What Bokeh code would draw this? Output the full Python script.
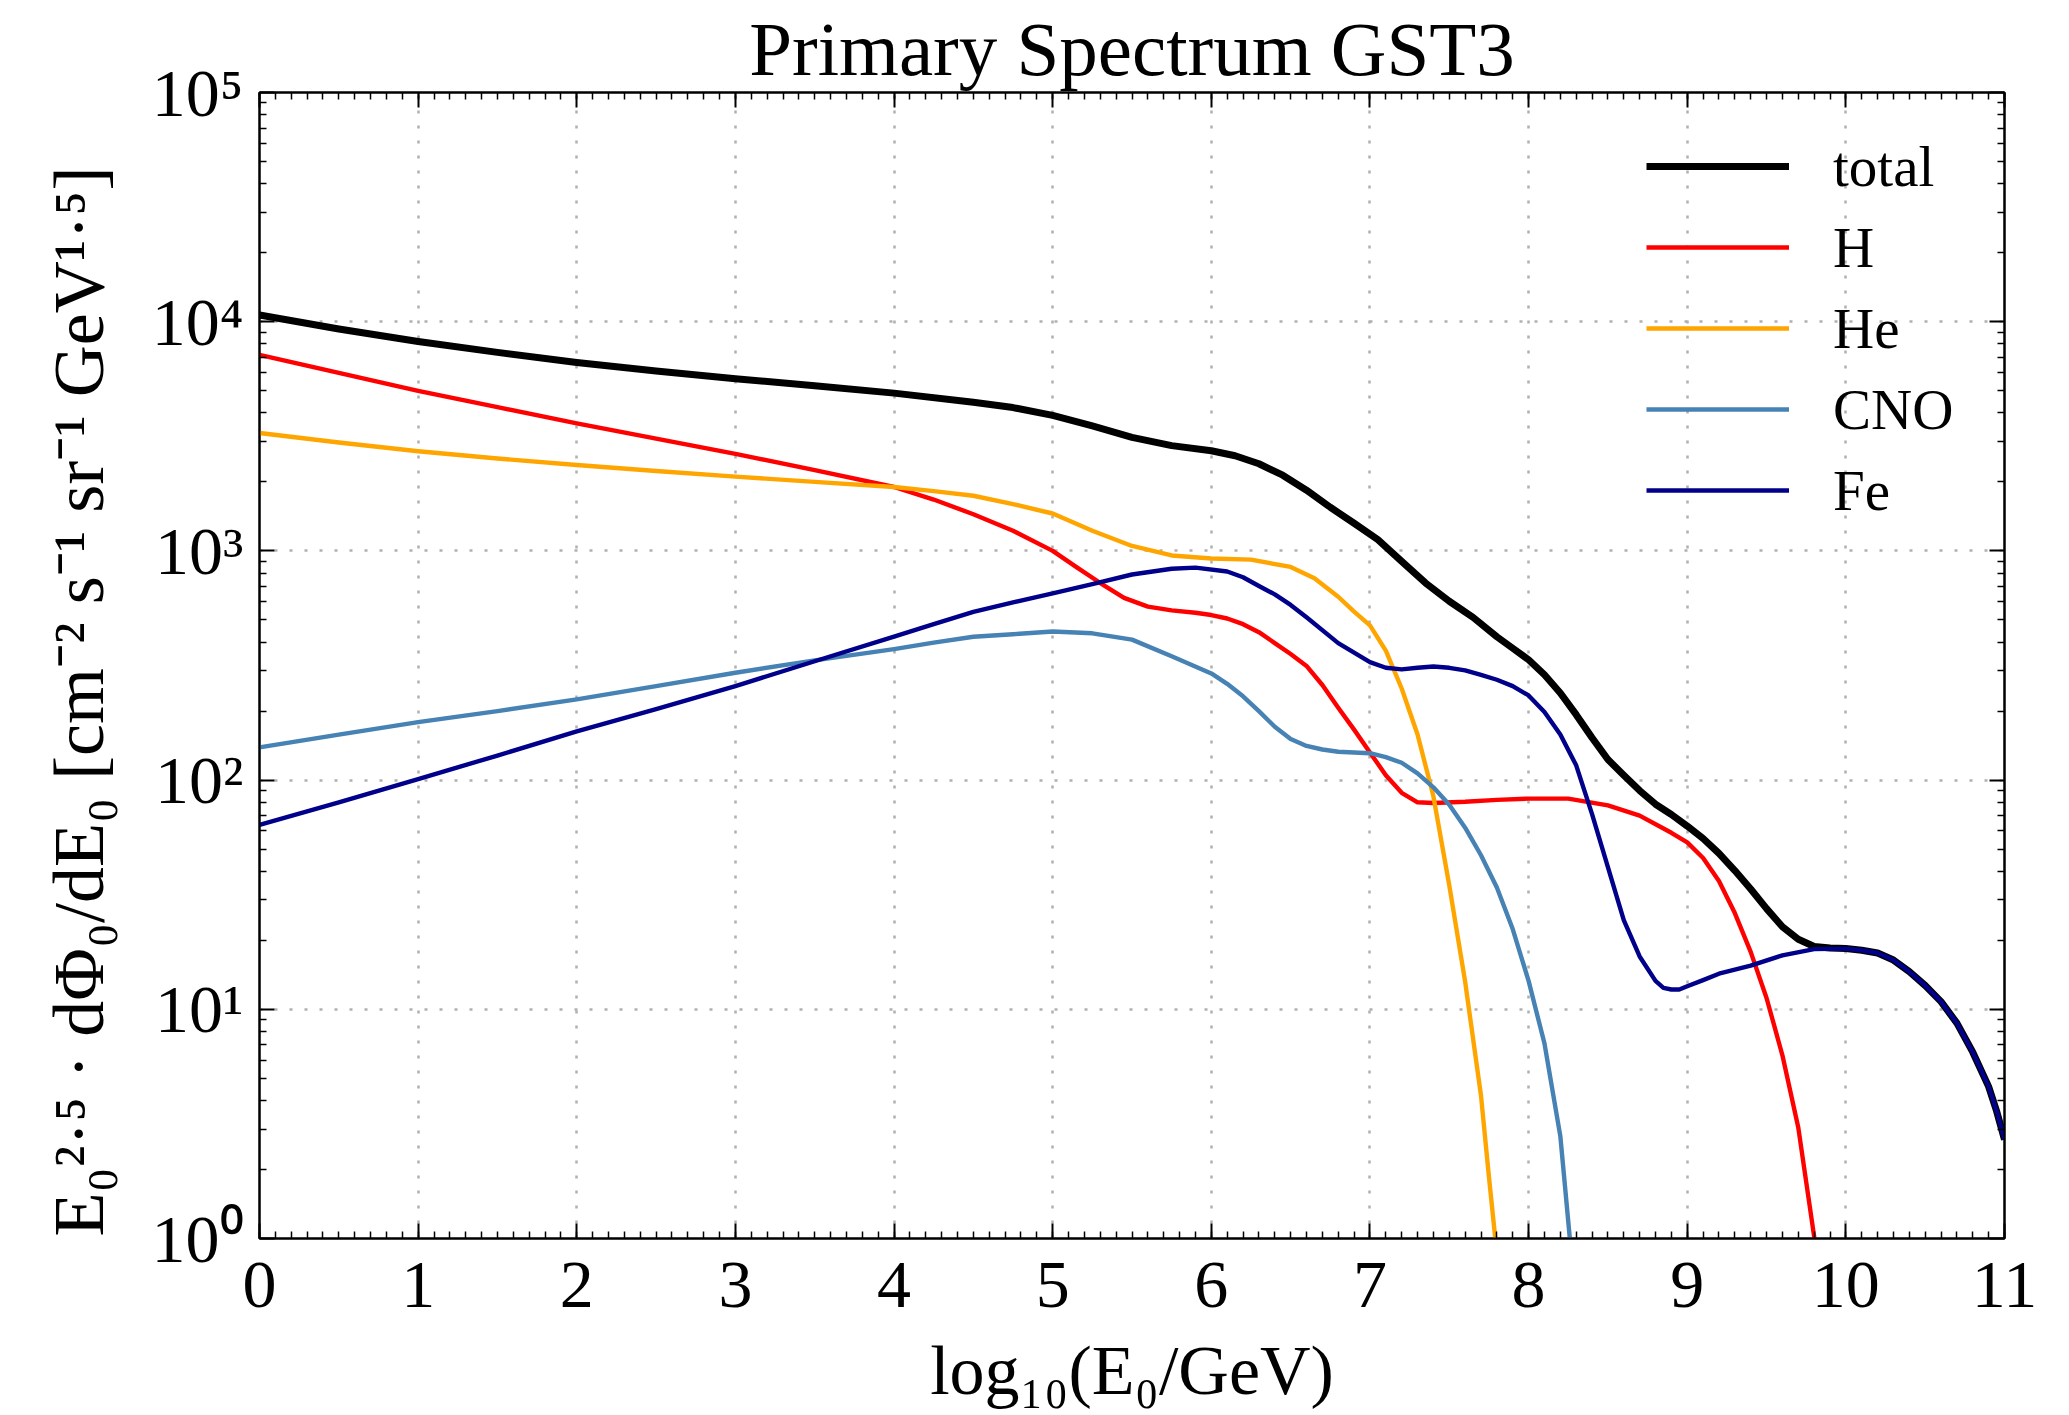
from bokeh.plotting import figure
from bokeh.models import (FixedTicker, LinearAxis, LogAxis, Legend, LegendItem, Range1d,
                          CustomJSTickFormatter)
from bokeh.embed import file_html
from bokeh.resources import INLINE

# ---------------- text ----------------
title_text = "Primary Spectrum GST3"
x_label = "log₁₀(E₀/GeV)"
y_label = "E₀²·⁵ · dΦ₀/dE₀   [cm⁻² s⁻¹ sr⁻¹   GeV¹·⁵]"

x_tick_values = [0, 1, 2, 3, 4, 5, 6, 7, 8, 9, 10, 11]
x_tick_labels = ["0", "1", "2", "3", "4", "5", "6", "7", "8", "9", "10", "11"]
y_tick_values = [1, 10, 100, 1000, 10000, 100000]
y_tick_labels = ["10⁰", "10¹", "10²", "10³", "10⁴", "10⁵"]

series_names = ["total", "H", "He", "CNO", "Fe"]
series_colors = ["#000000", "#ff0000", "#ffa500", "#4682b4", "#00008b"]

# ---------------- data ----------------
total_x = [0, 0.5, 1, 1.5, 2, 2.5, 3, 3.5, 4, 4.5, 4.75, 5, 5.25, 5.5, 5.75, 6, 6.15,
           6.3, 6.45, 6.6, 6.75, 6.9, 7.05, 7.2, 7.35, 7.5, 7.65, 7.8, 7.9, 8, 8.1,
           8.2, 8.3, 8.4, 8.5, 8.6, 8.7, 8.8, 8.9, 9, 9.1, 9.2, 9.3, 9.4, 9.5, 9.6,
           9.7, 9.8, 9.9, 10, 10.1, 10.2, 10.3, 10.4, 10.5, 10.6, 10.7, 10.8, 10.9,
           10.95, 11]
total_y = [10700, 9290, 8200, 7350, 6640, 6100, 5640, 5250, 4880, 4450, 4220, 3900,
           3510, 3130, 2880, 2735, 2600, 2400, 2140, 1840, 1550, 1320, 1120, 900, 725,
           603, 513, 422, 376, 335, 288, 240, 193, 153, 123, 105, 90, 78.5, 70.8, 63,
           55.6, 47.9, 40.3, 33.5, 27.5, 22.9, 20.2, 18.8, 18.5, 18.4, 18.1, 17.6,
           16.4, 14.6, 12.7, 10.8, 8.7, 6.5, 4.6, 3.6, 2.7]

h_x = [0, 0.5, 1, 1.5, 2, 2.5, 3, 3.5, 4, 4.25, 4.5, 4.75, 5, 5.15, 5.3, 5.45, 5.6,
       5.75, 5.9, 6, 6.1, 6.2, 6.3, 6.4, 6.5, 6.6, 6.7, 6.8, 6.9, 7, 7.1, 7.2, 7.3,
       7.4, 7.6, 7.8, 8, 8.25, 8.5, 8.7, 8.9, 9, 9.1, 9.2, 9.3, 9.4, 9.5, 9.6, 9.7,
       9.8, 9.85]
h_y = [7160, 5980, 4990, 4240, 3600, 3090, 2650, 2250, 1900, 1675, 1445, 1225, 1000,
       850, 724, 624, 571, 550, 537, 525, 507, 479, 442, 396, 355, 315, 260, 207, 166,
       132, 105, 88, 80, 79.4, 80.4, 82, 83, 83, 77.6, 70, 58.9, 53.5, 45.7, 36.3,
       26.3, 17.8, 11.2, 6.3, 3.05, 1.02, 0.56]

he_x = [0, 0.5, 1, 1.5, 2, 2.5, 3, 3.5, 4, 4.25, 4.5, 4.75, 5, 5.25, 5.5, 5.75, 6,
        6.25, 6.5, 6.65, 6.8, 6.9, 7, 7.1, 7.2, 7.3, 7.4, 7.5, 7.6, 7.7, 7.75, 7.79,
        7.82]
he_y = [3270, 2970, 2720, 2530, 2370, 2230, 2110, 2000, 1900, 1824, 1740, 1600, 1456,
        1225, 1051, 955, 926, 916, 851, 759, 631, 543, 473, 367, 251, 158, 85, 34.7,
        13.2, 4.2, 1.86, 1.0, 0.56]

cno_x = [0, 0.5, 1, 1.5, 2, 2.5, 3, 3.5, 4, 4.25, 4.5, 4.75, 5, 5.25, 5.5, 5.75, 6,
         6.1, 6.2, 6.3, 6.4, 6.5, 6.6, 6.7, 6.8, 7, 7.1, 7.2, 7.3, 7.4, 7.5, 7.6, 7.7,
         7.8, 7.9, 8, 8.1, 8.2, 8.26, 8.3]
cno_y = [139, 158, 179, 200, 225, 257, 294, 333, 373, 398, 422, 433, 445, 437, 410,
         347, 292, 263, 232, 200, 171, 151, 141, 136, 133, 131, 126, 119, 107, 93, 78,
         62, 47, 34, 22.4, 13.3, 7.1, 2.8, 1.0, 0.5]

fe_x = [0, 0.5, 1, 1.5, 2, 2.5, 3, 3.5, 4, 4.25, 4.5, 4.75, 5, 5.25, 5.5, 5.75, 5.9,
        6.1, 6.2, 6.3, 6.4, 6.5, 6.6, 6.8, 7, 7.1, 7.2, 7.3, 7.4, 7.5, 7.6, 7.7, 7.8,
        7.9, 8, 8.1, 8.2, 8.3, 8.4, 8.5, 8.6, 8.7, 8.8, 8.85, 8.9, 8.95, 9, 9.1, 9.2,
        9.4, 9.6, 9.8, 10, 10.1, 10.2, 10.3, 10.4, 10.5, 10.6, 10.7, 10.8, 10.9,
        10.95, 11]
fe_y = [63.7, 80, 101, 128, 163, 204, 257, 330, 423, 479, 542, 596, 652, 716, 789,
        836, 845, 813, 767, 703, 646, 581, 513, 396, 327, 309, 304, 309, 313, 309, 301,
        288, 274, 257, 234, 198, 158, 116, 71, 41.7, 24.5, 17, 13.3, 12.4, 12.2, 12.2,
        12.6, 13.4, 14.3, 15.5, 17.2, 18.3, 18.4, 18.1, 17.6, 16.4, 14.6, 12.7, 10.8,
        8.7, 6.5, 4.6, 3.6, 2.7]

series_x = [total_x, h_x, he_x, cno_x, fe_x]
series_y = [total_y, h_y, he_y, cno_y, fe_y]
series_widths = [7.0, 4.4, 4.4, 4.4, 4.4]

FONT = "Liberation Serif"

p = figure(width=2069, height=1415, output_backend="svg", toolbar_location=None,
           y_axis_type="log", x_range=Range1d(0, 11), y_range=Range1d(1, 1e5),
           min_border_left=259, min_border_right=65, min_border_top=92,
           min_border_bottom=177)
p.background_fill_color = "white"
p.border_fill_color = "white"
p.outline_line_color = "black"
p.outline_line_width = 2

# title
p.title.text = title_text
p.title.text_font = FONT
p.title.text_font_size = "77px"
p.title.text_font_style = "normal"
p.title.text_color = "black"
p.title.align = "center"
p.title.standoff = 2

# tickers
x_minor = [i / 10 for i in range(0, 111)]
y_minor = [m * 10 ** e for e in range(0, 5) for m in range(2, 10)]
xt = FixedTicker(ticks=x_tick_values, minor_ticks=x_minor)
yt = FixedTicker(ticks=y_tick_values, minor_ticks=y_minor)


def style_axis(ax, show_labels):
    ax.axis_line_color = "black"
    ax.axis_line_width = 2
    ax.major_tick_in = 15
    ax.major_tick_out = 0
    ax.minor_tick_in = 7
    ax.minor_tick_out = 0
    ax.major_tick_line_color = "black"
    ax.minor_tick_line_color = "black"
    ax.major_tick_line_width = 2
    ax.minor_tick_line_width = 1.5
    ax.major_label_text_font = FONT
    ax.major_label_text_color = "black"
    if show_labels:
        ax.major_label_text_font_size = "68px"
    else:
        ax.formatter = CustomJSTickFormatter(code="return ''")
        ax.major_label_text_font_size = "10px"
        ax.major_label_standoff = 0


xa = p.xaxis[0]
xa.ticker = xt
style_axis(xa, True)
xa.major_label_overrides = {v: s for v, s in zip(x_tick_values, x_tick_labels)}
xa.major_label_standoff = 24
xa.axis_label = x_label
xa.axis_label_text_font = FONT
xa.axis_label_text_font_size = "70px"
xa.axis_label_text_font_style = "normal"
xa.axis_label_text_color = "black"
xa.axis_label_standoff = 22

ya = p.yaxis[0]
ya.ticker = yt
style_axis(ya, True)
ya.major_label_overrides = {v: s for v, s in zip(y_tick_values, y_tick_labels)}
ya.major_label_standoff = 16
ya.axis_label = y_label
ya.axis_label_text_font = FONT
ya.axis_label_text_font_size = "72px"
ya.axis_label_text_font_style = "normal"
ya.axis_label_text_color = "black"
ya.axis_label_standoff = 30

top = LinearAxis(ticker=xt)
style_axis(top, False)
p.add_layout(top, "above")
right = LogAxis(ticker=yt)
style_axis(right, False)
p.add_layout(right, "right")

for g in (p.xgrid[0], p.ygrid[0]):
    g.grid_line_color = "#b0b0b0"
    g.grid_line_dash = "3 12"
    g.grid_line_width = 2.5
p.xgrid[0].ticker = FixedTicker(ticks=x_tick_values)
p.ygrid[0].ticker = FixedTicker(ticks=y_tick_values)

items = []
for name, xs, ys, col, w in zip(series_names, series_x, series_y, series_colors, series_widths):
    r = p.line(xs, ys, line_color=col, line_width=w, line_join="round")
    items.append(LegendItem(label=name, renderers=[r]))

legend = Legend(items=items, location="top_right")
legend.border_line_alpha = 0
legend.background_fill_alpha = 0
legend.label_text_font = FONT
legend.label_text_font_size = "57px"
legend.label_text_color = "black"
legend.glyph_width = 143
legend.glyph_height = 70
legend.label_height = 70
legend.label_width = 132
legend.spacing = 11
legend.label_standoff = 44
legend.padding = 12
legend.margin = 27
p.add_layout(legend)

open("out.html", "w").write(file_html(p, INLINE))
